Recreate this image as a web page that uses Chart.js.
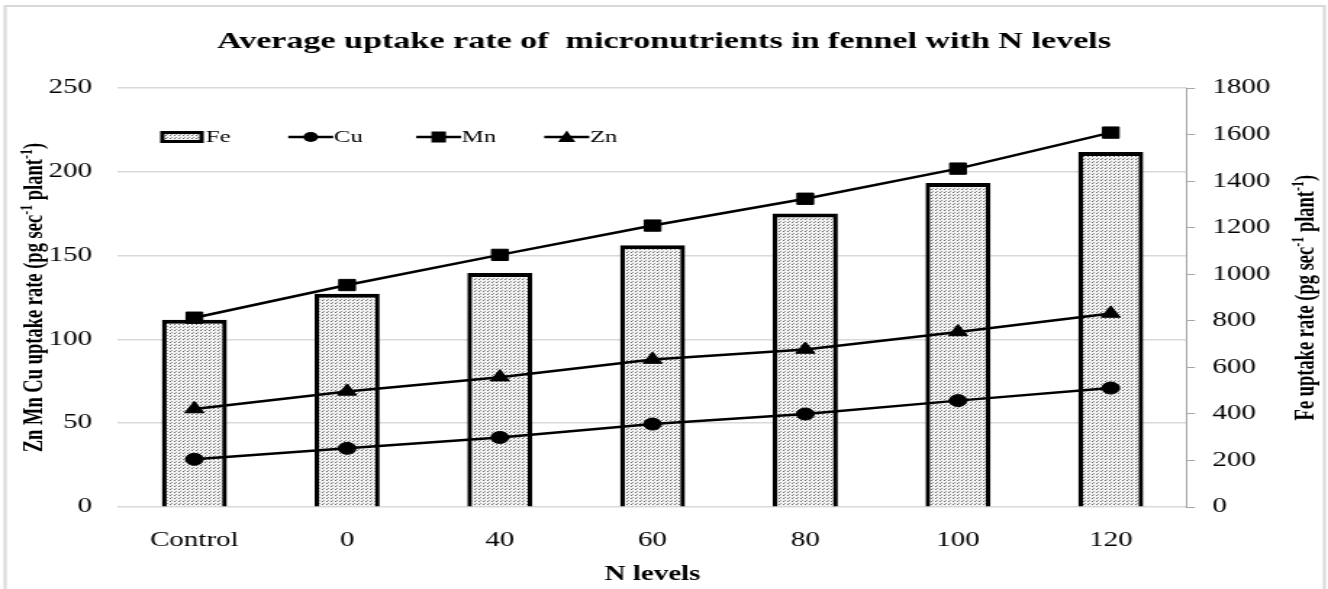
<!DOCTYPE html>
<html>
<head>
<meta charset="utf-8">
<script src="https://cdn.jsdelivr.net/npm/chart.js@4.4.1/dist/chart.umd.min.js"></script>
<style>
  html, body { margin: 0; padding: 0; background: #fff; overflow: hidden; }
  /* the source picture is stretched sideways, so draw narrow and stretch */
  #wrap { width: 916px; height: 589px; transform: scaleX(1.4498); transform-origin: 0 0; }
</style>
</head>
<body>
<div id="wrap"><canvas id="chart" width="916" height="589"></canvas></div>
<script>
// Data
const categories = ['Control', '0', '40', '60', '80', '100', '120'];
const feValues = [805, 917, 1006, 1125, 1261, 1393, 1526];
const cuValues = [28.5, 35, 41.5, 49.5, 55.5, 63.5, 71];
const mnValues = [113, 132.5, 150.5, 168, 184, 202, 223.5];
const znValues = [58.5, 69, 77.5, 88, 94, 104.5, 115.5];
const leftTicks = [0, 50, 100, 150, 200, 250];
const rightTicks = [0, 200, 400, 600, 800, 1000, 1200, 1400, 1600, 1800];

const FONT = 'Liberation Serif';
const gridGrey = '#d9d9d9';

// dotted fill like the original bars
function makePattern() {
  const c = document.createElement('canvas');
  c.width = 3;
  c.height = 3;
  const g = c.getContext('2d');
  g.fillStyle = '#f2f2f2';
  g.fillRect(0, 0, 3, 3);
  g.fillStyle = '#6a6a6a';
  g.fillRect(0, 0, 1, 1);
  g.fillStyle = '#9a9a9a';
  g.fillRect(1, 2, 1, 1);
  return document.getElementById('chart').getContext('2d').createPattern(c, 'repeat');
}
const dots = makePattern();

// axis title with superscript -1, rotated to read upwards
function drawAxisTitle(ctx, parts, cx, cy) {
  const big = 'bold 18.5px "' + FONT + '"';
  const small = 'bold 12px "' + FONT + '"';
  let total = 0;
  parts.forEach(p => {
    ctx.font = p.sup ? small : big;
    p.w = ctx.measureText(p.t).width;
    total += p.w;
  });
  ctx.save();
  ctx.translate(cx, cy);
  ctx.rotate(-Math.PI / 2);
  ctx.fillStyle = '#000';
  ctx.textBaseline = 'alphabetic';
  ctx.textAlign = 'left';
  let x = -total / 2;
  parts.forEach(p => {
    ctx.font = p.sup ? small : big;
    ctx.fillText(p.t, x, p.sup ? -1 : 6);
    x += p.w;
  });
  ctx.restore();
}

const leftTitle = [
  { t: 'Zn Mn Cu uptake rate (pg sec' }, { t: '-1', sup: true },
  { t: ' plant' }, { t: '-1', sup: true }, { t: ')' }
];
const rightTitle = [
  { t: 'Fe uptake rate (pg sec' }, { t: '-1', sup: true },
  { t: ' plant' }, { t: '-1', sup: true }, { t: ')' }
];

// frame, axis titles and legend inside the plot
const extras = {
  id: 'extras',
  beforeDraw(chart) {
    const ctx = chart.ctx;
    ctx.save();
    ctx.fillStyle = '#fff';
    ctx.fillRect(0, 0, chart.width, chart.height);
    ctx.strokeStyle = '#d9d9d9';
    ctx.lineWidth = 2;
    ctx.strokeRect(3.5, 6, 910, 590);
    ctx.restore();
  },
  afterDraw(chart) {
    const ctx = chart.ctx;
    const area = chart.chartArea;
    const midY = (area.top + area.bottom) / 2;
    drawAxisTitle(ctx, leftTitle, 22.8, midY);
    drawAxisTitle(ctx, rightTitle, 900, midY);

    // legend
    const y = 137;
    let x = 110.5;
    ctx.save();
    ctx.font = '17px "' + FONT + '"';
    ctx.textBaseline = 'middle';
    ctx.textAlign = 'left';
    chart.data.datasets.forEach(ds => {
      if (ds.type === 'bar') {
        ctx.fillStyle = dots;
        ctx.fillRect(x, y - 6, 30, 12);
        ctx.strokeStyle = '#000';
        ctx.lineWidth = 3;
        ctx.strokeRect(x + 1.5, y - 4.5, 27, 9);
      } else {
        ctx.strokeStyle = '#000';
        ctx.lineWidth = 2.5;
        ctx.beginPath();
        ctx.moveTo(x, y);
        ctx.lineTo(x + 31, y);
        ctx.stroke();
        const cx = x + 15.5;
        ctx.fillStyle = '#000';
        ctx.beginPath();
        if (ds.pointStyle === 'circle') {
          ctx.arc(cx, y, 5, 0, Math.PI * 2);
        } else if (ds.pointStyle === 'rect') {
          ctx.rect(cx - 5, y - 5.5, 10, 11);
        } else {
          ctx.moveTo(cx, y - 6.5);
          ctx.lineTo(cx + 6, y + 5);
          ctx.lineTo(cx - 6, y + 5);
          ctx.closePath();
        }
        ctx.fill();
      }
      ctx.fillStyle = '#000';
      ctx.fillText(ds.label, x + 31.5, y + 1);
      x += 88.3;
    });
    ctx.restore();
  }
};

const lineStyle = (label, values, style, radius) => ({
  type: 'line',
  label: label,
  data: values,
  yAxisID: 'y',
  order: 0,
  borderColor: '#000',
  borderWidth: 2.5,
  pointStyle: style,
  pointRadius: radius,
  pointBorderWidth: 1,
  pointBackgroundColor: '#000',
  pointBorderColor: '#000',
  tension: 0
});

new Chart(document.getElementById('chart'), {
  type: 'bar',
  data: {
    labels: categories,
    datasets: [
      {
        type: 'bar',
        label: 'Fe',
        data: feValues,
        yAxisID: 'y1',
        order: 1,
        backgroundColor: dots,
        borderColor: '#000',
        borderWidth: { top: 4, left: 3.3, right: 3.3, bottom: 0 },
        borderSkipped: false,
        categoryPercentage: 1,
        barPercentage: 0.426
      },
      lineStyle('Cu', cuValues, 'circle', 6),
      lineStyle('Mn', mnValues, 'rect', 8),
      lineStyle('Zn', znValues, 'triangle', 7.5)
    ]
  },
  options: {
    responsive: false,
    animation: false,
    devicePixelRatio: 1,
    layout: { padding: 0 },
    plugins: {
      legend: { display: false },
      tooltip: { enabled: false },
      title: {
        display: true,
        text: 'Average uptake rate of  micronutrients in fennel with N levels',
        color: '#000',
        font: { family: FONT, size: 23.5, weight: 'bold' },
        padding: { top: 28, bottom: 32 }
      }
    },
    scales: {
      x: {
        grid: { display: false, drawTicks: false },
        border: { display: false },
        ticks: { color: '#000', font: { family: FONT, size: 20 }, padding: 22 },
        title: {
          display: true,
          text: 'N levels',
          color: '#000',
          font: { family: FONT, size: 20, weight: 'bold' },
          padding: { top: 0, bottom: 2 }
        },
        afterFit: s => { s.height = 82; }
      },
      y: {
        position: 'left',
        min: 0,
        max: 250,
        afterBuildTicks: s => { s.ticks = leftTicks.map(v => ({ value: v })); },
        ticks: {
          color: '#000',
          font: { family: FONT, size: 20 },
          padding: 18,
          callback: v => String(v)
        },
        grid: { color: gridGrey, lineWidth: 1.5, drawTicks: false },
        border: { display: false },
        afterFit: s => { s.width = 81.4; }
      },
      y1: {
        position: 'right',
        min: 0,
        max: 1800,
        afterBuildTicks: s => { s.ticks = rightTicks.map(v => ({ value: v })); },
        ticks: {
          color: '#000',
          font: { family: FONT, size: 20 },
          padding: 12,
          callback: v => String(v)
        },
        grid: { drawOnChartArea: false, drawTicks: true, tickLength: 5.5, color: '#a6a6a6' },
        border: { display: true, color: '#a6a6a6', width: 1 },
        afterFit: s => { s.width = 97.2; }
      }
    }
  },
  plugins: [extras]
});
</script>
</body>
</html>
